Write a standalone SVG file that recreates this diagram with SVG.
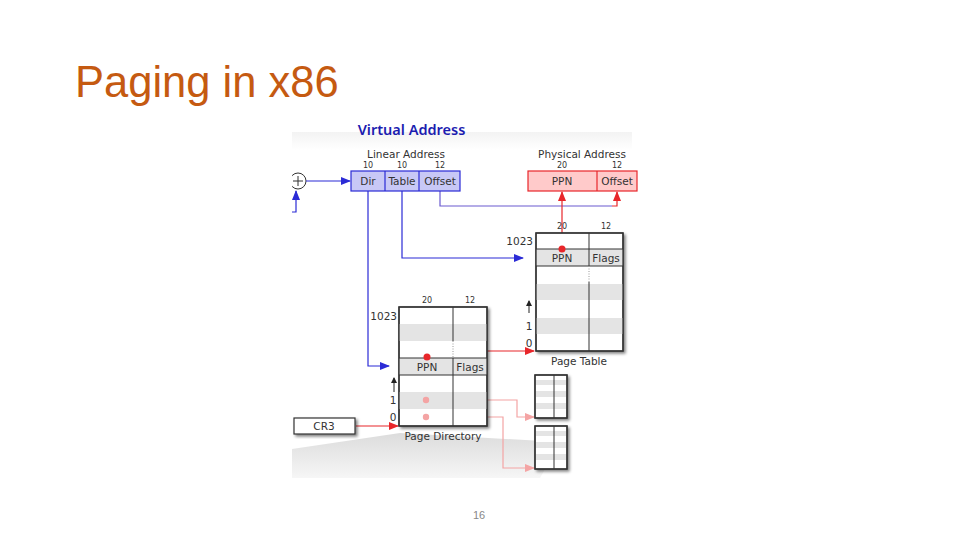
<svg xmlns="http://www.w3.org/2000/svg" width="960" height="540" viewBox="0 0 960 540">
<defs>
<style>
.t{font-family:"DejaVu Sans",sans-serif;fill:#333;text-anchor:middle}
.m{font-size:10.5px}
.s{font-size:8px}
.bl{fill:none;stroke:#2b2bd6;stroke-width:1.2}
.rd{fill:none;stroke:#e8262a;stroke-width:1.2}
.pk{fill:none;stroke:#f4a4a4;stroke-width:1.2}
.tbl{fill:#fff;stroke:#333;stroke-width:1.3}
.stripe{fill:#e4e4e4}
.ln{stroke:#333;stroke-width:1}
</style>
<marker id="ab" markerWidth="10" markerHeight="8" refX="9" refY="4" orient="auto" markerUnits="userSpaceOnUse"><path d="M0,0 L10,4 L0,8 z" fill="#2b2bd6"/></marker>
<marker id="ar" markerWidth="10" markerHeight="8" refX="9" refY="4" orient="auto" markerUnits="userSpaceOnUse"><path d="M0,0 L10,4 L0,8 z" fill="#e8262a"/></marker>
<marker id="ap" markerWidth="10" markerHeight="8" refX="9" refY="4" orient="auto" markerUnits="userSpaceOnUse"><path d="M0,0 L10,4 L0,8 z" fill="#f4a4a4"/></marker>
<marker id="ak" markerWidth="6" markerHeight="6" refX="5" refY="3" orient="auto" markerUnits="userSpaceOnUse"><path d="M0,0 L6,3 L0,6 z" fill="#222"/></marker>
<filter id="sh" x="-20%" y="-20%" width="150%" height="150%"><feGaussianBlur in="SourceAlpha" stdDeviation="1.5"/><feOffset dx="2" dy="2" result="b"/><feComponentTransfer><feFuncA type="linear" slope="0.5"/></feComponentTransfer><feMerge><feMergeNode/><feMergeNode in="SourceGraphic"/></feMerge></filter>
<linearGradient id="gb" x1="0" y1="0" x2="0" y2="1"><stop offset="0" stop-color="#dcdcdc"/><stop offset="1" stop-color="#f6f6f6"/></linearGradient>
<linearGradient id="gt" x1="0" y1="0" x2="0" y2="1"><stop offset="0" stop-color="#f3f3f3"/><stop offset="1" stop-color="#ffffff"/></linearGradient>
<clipPath id="img"><rect x="292" y="130" width="350" height="350"/></clipPath>
</defs>
<rect width="960" height="540" fill="#fff"/>
<text x="75" y="97" font-family="Liberation Sans, Arial, sans-serif" font-size="43.5" fill="#c55a11">Paging in x86</text>

<g clip-path="url(#img)">
<rect x="292" y="132" width="340" height="18" fill="url(#gt)"/>
<polygon points="292,449 400,433 560,442 540,478 292,478" fill="url(#gb)"/>

<g id="connectors">
<circle cx="298" cy="181" r="8" fill="#fff" stroke="#333" stroke-width="1"/>
<path d="M293,181 H303 M298,176 V186" stroke="#333" stroke-width="1"/>
<path class="bl" d="M306,181 H350" marker-end="url(#ab)"/>
<path class="bl" d="M290,212 H296 V191" marker-end="url(#ab)"/>
<path class="bl" d="M440,191 V206 H612" style="stroke:#6a5ad0"/>
<path class="rd" d="M612,206 H617 V192" marker-end="url(#ar)"/>
<path class="bl" d="M402,191 V258 H523" marker-end="url(#ab)"/>
<path class="bl" d="M368,191 V366 H389" marker-end="url(#ab)"/>
<path class="rd" d="M562,249 V192" marker-end="url(#ar)"/>
<path class="rd" d="M427,357 V351 H534" marker-end="url(#ar)"/>
<path class="pk" d="M426,400 H517 V417 H534" marker-end="url(#ap)"/>
<path class="pk" d="M426,417 H503 V468 H534" marker-end="url(#ap)"/>
<path class="rd" d="M356,426 H398" marker-end="url(#ar)"/>
<path d="M529,313 V301" stroke="#222" stroke-width="1" marker-end="url(#ak)"/>
<path d="M394,392 V378" stroke="#222" stroke-width="1" marker-end="url(#ak)"/>
</g>

<g id="linear-address">
<text class="t m" x="406" y="158">Linear Address</text>
<text class="t s" x="368" y="168">10</text>
<text class="t s" x="402" y="168">10</text>
<text class="t s" x="440" y="168">12</text>
<rect x="351" y="171" width="109" height="20" fill="#c8c8f6" stroke="#2b2bd6" stroke-width="1.2"/>
<path d="M385,171 V191 M419,171 V191" stroke="#2b2bd6" stroke-width="1.2"/>
<text class="t m" x="368" y="185">Dir</text>
<text class="t m" x="402" y="185">Table</text>
<text class="t m" x="440" y="185">Offset</text>
</g>

<g id="physical-address">
<text class="t m" x="582" y="158">Physical Address</text>
<text class="t s" x="562" y="168">20</text>
<text class="t s" x="617" y="168">12</text>
<rect x="528" y="171" width="109" height="20" fill="#ffcaca" stroke="#e8262a" stroke-width="1.2"/>
<path d="M597,171 V191" stroke="#e8262a" stroke-width="1.2"/>
<text class="t m" x="562" y="185">PPN</text>
<text class="t m" x="617" y="185">Offset</text>
</g>

<g id="page-table">
<text class="t s" x="562" y="229">20</text>
<text class="t s" x="606" y="229">12</text>
<g filter="url(#sh)"><rect class="tbl" x="536" y="233" width="87" height="118"/></g>
<rect class="stripe" x="536" y="249" width="87" height="17"/>
<rect class="stripe" x="536" y="284" width="87" height="16"/>
<rect class="stripe" x="536" y="318" width="87" height="16"/>
<path class="ln" d="M536,249 H623 M536,266 H623 M589,233 V266"/>
<path d="M589,266 V282" stroke="#999" stroke-width="1" stroke-dasharray="1,1.5"/>
<path class="ln" d="M589,282 V351"/>
<rect x="536" y="233" width="87" height="118" fill="none" stroke="#333" stroke-width="1.3"/>
<text class="t m" x="562" y="262">PPN</text>
<text class="t m" x="606" y="262">Flags</text>
<text class="t m" x="533" y="245" style="text-anchor:end">1023</text>
<text class="t m" x="529" y="330">1</text>
<text class="t m" x="529" y="347">0</text>
<text class="t m" x="579" y="365">Page Table</text>
<circle cx="562" cy="249" r="3.5" fill="#e8262a"/>
</g>

<g id="page-directory">
<text class="t s" x="427" y="303">20</text>
<text class="t s" x="470" y="303">12</text>
<g filter="url(#sh)"><rect class="tbl" x="399" y="307" width="88" height="119"/></g>
<rect class="stripe" x="399" y="324" width="88" height="17"/>
<rect class="stripe" x="399" y="358" width="88" height="17"/>
<rect class="stripe" x="399" y="392" width="88" height="17"/>
<path class="ln" d="M399,358 H487 M399,375 H487 M453,307 V341 M453,358 V426"/>
<path d="M453,341 V358" stroke="#999" stroke-width="1" stroke-dasharray="1,1.5"/>
<rect x="399" y="307" width="88" height="119" fill="none" stroke="#333" stroke-width="1.3"/>
<text class="t m" x="427" y="371">PPN</text>
<text class="t m" x="470" y="371">Flags</text>
<text class="t m" x="397" y="320" style="text-anchor:end">1023</text>
<text class="t m" x="393" y="404">1</text>
<text class="t m" x="393" y="421">0</text>
<text class="t m" x="443" y="440">Page Directory</text>
<circle cx="427" cy="357" r="3.5" fill="#e8262a"/>
<circle cx="426" cy="400" r="3.2" fill="#f4a4a4"/>
<circle cx="426" cy="417" r="3.2" fill="#f4a4a4"/>
</g>

<g id="small-table-1">
<g filter="url(#sh)"><rect class="tbl" x="535" y="375" width="32" height="43"/></g>
<rect class="stripe" x="536" y="380" width="30" height="5"/>
<rect class="stripe" x="536" y="391" width="30" height="6"/>
<rect class="stripe" x="536" y="403" width="30" height="6"/>
<path class="ln" d="M554,375 V418"/>
<rect x="535" y="375" width="32" height="43" fill="none" stroke="#333" stroke-width="1.3"/>
</g>

<g id="small-table-2">
<g filter="url(#sh)"><rect class="tbl" x="535" y="426" width="32" height="43"/></g>
<rect class="stripe" x="536" y="431" width="30" height="5"/>
<rect class="stripe" x="536" y="442" width="30" height="6"/>
<rect class="stripe" x="536" y="454" width="30" height="6"/>
<path class="ln" d="M554,426 V469"/>
<rect x="535" y="426" width="32" height="43" fill="none" stroke="#333" stroke-width="1.3"/>
</g>

<g id="cr3">
<g filter="url(#sh)"><rect x="294" y="418" width="61" height="16" fill="#fff" stroke="#333" stroke-width="1.2"/></g>
<text class="t m" x="324" y="430">CR3</text>
</g>
</g>

<text x="411.5" y="135" font-family="Noto Sans, Open Sans, sans-serif" font-size="14.5" font-weight="600" fill="#1c1cb0" text-anchor="middle">Virtual Address</text>
<text x="479" y="519" font-family="Liberation Sans, Arial, sans-serif" font-size="11" fill="#888" text-anchor="middle">16</text>
</svg>
